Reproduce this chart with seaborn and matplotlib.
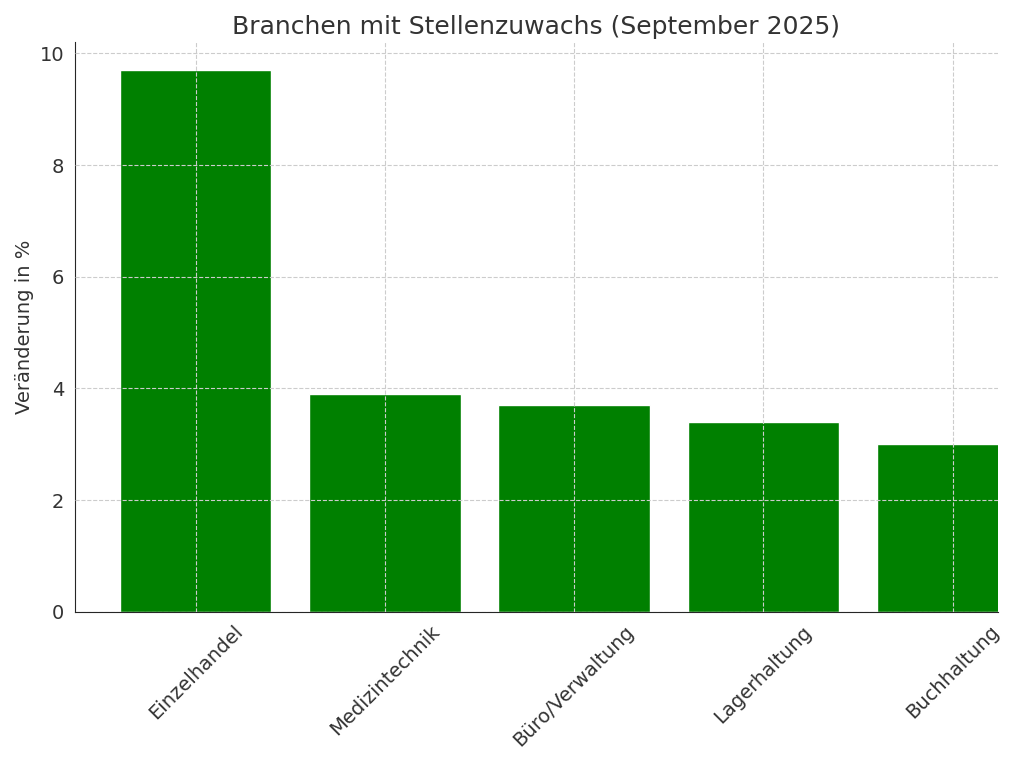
import matplotlib
matplotlib.use("Agg")
import matplotlib.pyplot as plt
import seaborn as sns
import pandas as pd

# Data
branchen = ["Einzelhandel", "Medizintechnik", "Büro/Verwaltung", "Lagerhaltung", "Buchhaltung"]
veraenderung = [9.7, 3.9, 3.7, 3.4, 3.0]

df = pd.DataFrame({"Branche": branchen, "Veränderung": veraenderung})

sns.set_style("white")
plt.rcParams["font.family"] = ["DejaVu Sans"]

fig, ax = plt.subplots(figsize=(10.24, 7.65), dpi=100)
sns.barplot(data=df, x="Branche", y="Veränderung", color="green", saturation=1,
            width=0.8, ax=ax)

ax.set_axisbelow(False)
ax.grid(True, linestyle="--", color="#cccccc", linewidth=0.8)
ax.set_title("Branchen mit Stellenzuwachs (September 2025)", fontsize=18, color="#333333")
ax.set_xlabel("")
ax.set_ylabel("Veränderung in %", fontsize=14, color="#333333")
ax.tick_params(axis="both", labelsize=14, colors="#333333", length=4)
plt.setp(ax.get_xticklabels(), rotation=45, ha="center")
ax.set_xticks(range(len(branchen)))
ax.set_xticklabels(branchen, rotation=45, fontsize=14, color="#333333")
ax.set_ylim(0, 10.2)
ax.set_xlim(-0.64, 4.24)
for s in ["top", "right"]:
    ax.spines[s].set_visible(False)

plt.tight_layout()
fig.savefig("out.png", dpi=100)
